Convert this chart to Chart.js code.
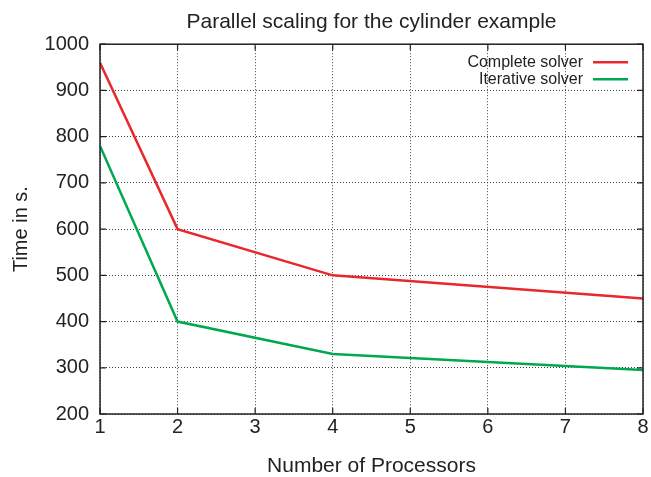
<!DOCTYPE html>
<html>
<head>
<meta charset="utf-8">
<title>Parallel scaling</title>
<script src="https://cdn.jsdelivr.net/npm/chart.js@4/dist/chart.umd.min.js"></script>
<style>
  html,body{margin:0;padding:0;background:#fff}
  #wrap{width:651px;height:477px;position:relative}
</style>
</head>
<body>
<div id="wrap"><canvas id="chart"></canvas></div>
<script>
// ====== DATA ======
const processors = [1, 2, 4, 8];
const completeSolver = [960, 600, 500, 450];
const iterativeSolver = [780, 400, 330, 295];
const seriesNames = ['Complete solver', 'Iterative solver'];
const seriesColors = ['#e8282b', '#00a84f'];

const FONT = '"Liberation Sans", Arial, Helvetica, sans-serif';

// gnuplot-like frame: solid border, inward ticks on all sides, legend top right
const framePlugin = {
  id: 'frame',
  afterDatasetsDraw(chart){
    const {ctx, chartArea:a, scales:{x, y}} = chart;
    ctx.save();
    ctx.strokeStyle = '#222'; ctx.lineWidth = 1.5;
    ctx.strokeRect(a.left, a.top, a.right - a.left, a.bottom - a.top);
    ctx.lineWidth = 1.2;
    const len = 6;
    ctx.beginPath();
    x.ticks.forEach(t => {
      const px = x.getPixelForValue(t.value);
      ctx.moveTo(px, a.bottom); ctx.lineTo(px, a.bottom - len);
      ctx.moveTo(px, a.top); ctx.lineTo(px, a.top + len);
    });
    y.ticks.forEach(t => {
      const py = y.getPixelForValue(t.value);
      ctx.moveTo(a.left, py); ctx.lineTo(a.left + len, py);
      ctx.moveTo(a.right, py); ctx.lineTo(a.right - len, py);
    });
    ctx.stroke();

    // legend
    ctx.font = '16px ' + FONT;
    ctx.textAlign = 'right'; ctx.textBaseline = 'middle'; ctx.fillStyle = '#222';
    const textX = a.right - 60, lineX0 = a.right - 50, lineX1 = a.right - 15;
    chart.data.datasets.forEach((ds, i) => {
      const ly = a.top + 18 + i * 17;
      ctx.fillText(ds.label, textX, ly);
      ctx.strokeStyle = ds.borderColor; ctx.lineWidth = 2.5;
      ctx.beginPath(); ctx.moveTo(lineX0, ly); ctx.lineTo(lineX1, ly); ctx.stroke();
    });
    ctx.restore();
  }
};

const toPoints = vals => vals.map((v, i) => ({x: processors[i], y: v}));

new Chart(document.getElementById('chart'), {
  type: 'line',
  data: {
    datasets: [
      {label: seriesNames[0], data: toPoints(completeSolver), borderColor: seriesColors[0], borderWidth: 2.5, pointRadius: 0, tension: 0},
      {label: seriesNames[1], data: toPoints(iterativeSolver), borderColor: seriesColors[1], borderWidth: 2.5, pointRadius: 0, tension: 0}
    ]
  },
  options: {
    responsive: true, maintainAspectRatio: false, animation: false,
    layout: {padding: {top: 0, right: 8, left: 0, bottom: 0}},
    plugins: {
      legend: {display: false},
      tooltip: {enabled: false},
      title: {display: true, fullSize: false, text: 'Parallel scaling for the cylinder example', color: '#222',
              font: {family: FONT, size: 21, weight: 'normal'}, padding: {top: 10, bottom: 9}}
    },
    scales: {
      x: {
        type: 'linear', min: 1, max: 8,
        afterFit: s => { s.height = 63; },
        ticks: {stepSize: 1, color: '#222', font: {family: FONT, size: 20}, padding: 1},
        grid: {color: '#444', lineWidth: 1, drawTicks: false},
        border: {display: false, dash: [1, 2]},
        title: {display: true, text: 'Number of Processors', color: '#222', font: {family: FONT, size: 21}, padding: {top: 0, bottom: -2}}
      },
      y: {
        min: 200, max: 1000,
        afterFit: s => { s.width = 100; },
        ticks: {stepSize: 100, color: '#222', font: {family: FONT, size: 20}, padding: 11, callback: v => String(v)},
        grid: {color: '#444', lineWidth: 1, drawTicks: false},
        border: {display: false, dash: [1, 2]},
        title: {display: true, text: 'Time in s.', color: '#222', font: {family: FONT, size: 20}, padding: {top: 9, bottom: 0}}
      }
    }
  },
  plugins: [framePlugin]
});
</script>
</body>
</html>
